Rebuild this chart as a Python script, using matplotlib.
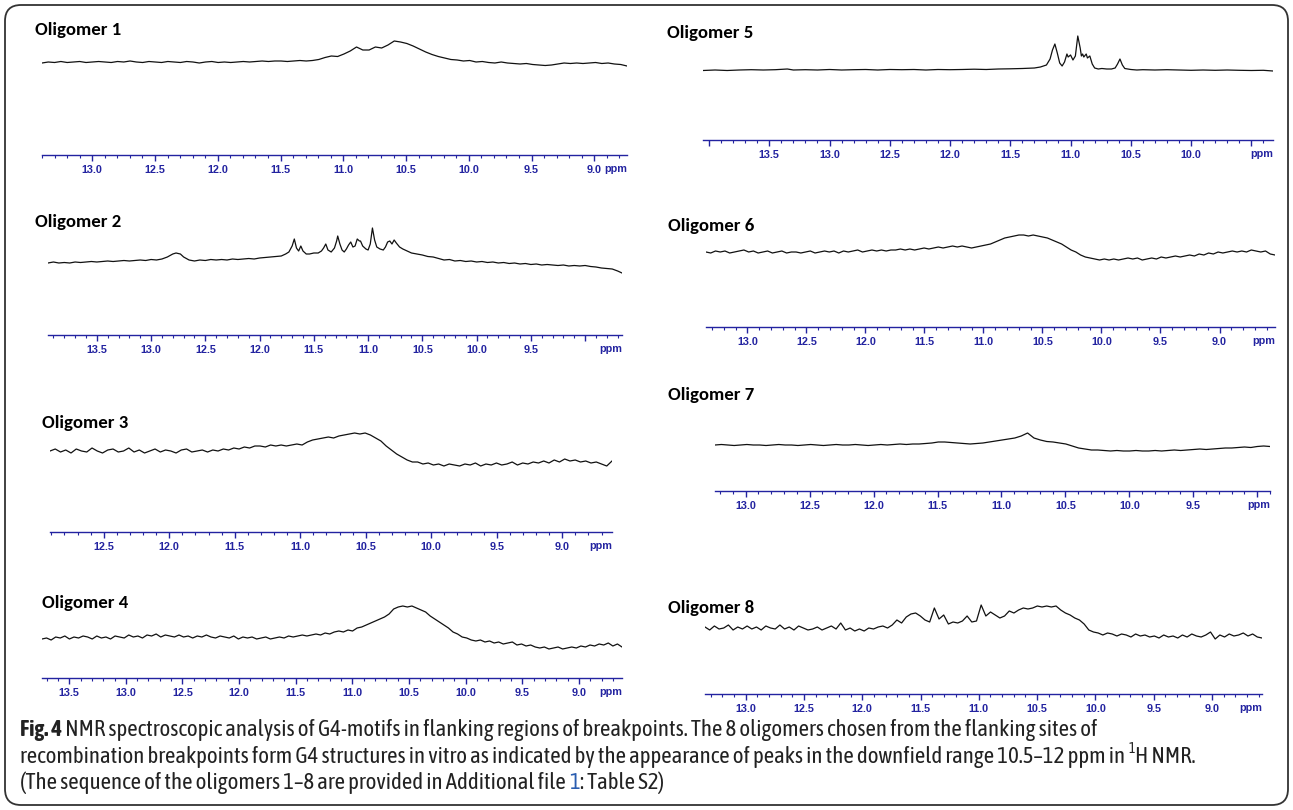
import numpy as np
import matplotlib.pyplot as plt
from matplotlib.patches import FancyBboxPatch

W, H = 1293, 810

# ---- spectra (intensity above baseline) ----
# evenly sampled traces: values run from the left axis end to the right axis end
olig1_int = [-1, 0, -0.5, 0.5, -0.5, 0, 0.5, -0.5, 0, 0.5,
             0, -0.5, 0.5, 0, 1, 0, -0.5, 0.5, 0, -0.5,
             0.5, 0, -0.5, 0.5, 0, -1, 0, 0.5, -0.5, 0,
             -0.5, 0, 0.5, 0, 0.5, 1, 0.5, 1, 1, 0.5,
             1, 1.5, 1, 1.5, 2.5, 4.5, 6, 5.5, 8, 11,
             15, 12, 12, 15, 14, 17, 21, 20, 18.5, 16,
             13, 10, 7.5, 5.5, 4, 2.5, 2, 1, 1.5, 0,
             0.5, -0.5, -1, 0, -1, -1.5, -2, -1.5, -2.5, -3,
             -3.5, -3, -2, -1, -1.5, -1, -1.5, -1, -0.5, -1.5,
             -1, -2, -2.5, -4]

olig3_int = [0, 2, -1, 1, -2, 2, 0, -1, 3, 0,
             -2, 1, 2, -1, 0, 3, -1, 1, -2, 0,
             2, -1, 1, 0, -2, 1, 2, -1, 0, 1,
             -1, 1, 0, 2, 1, 3, 2, 4, 3, 5,
             5, 4, 6, 5, 6, 5, 6, 7, 6, 9,
             11, 12, 13, 14, 13, 15, 16, 17, 18, 17,
             18, 16, 13, 10, 5, 1, -3, -6, -9, -11,
             -11, -13, -12, -14, -13, -15, -13, -14, -15, -13,
             -14, -12, -15, -13, -14, -12, -14, -13, -11, -14,
             -12, -13, -11, -12, -10, -12, -9, -11, -8, -10,
             -9, -11, -10, -12, -11, -13, -15, -10]

olig4_int = [-1, 0, -2, 1, 0, 2, -1, 1, 0, 2,
             1, -1, 2, 0, 1, -1, 2, 1, 0, 3,
             1, 2, 0, 3, 2, 4, 1, 3, 2, 1,
             3, 1, 2, 0, 2, 1, 3, 1, 0, 2,
             1, 0, 2, -1, 1, 0, 1, -1, 0, 1,
             -1, 0, 1, 0, 2, 1, 2, 3, 2, 3,
             4, 3, 5, 4, 6, 7, 6, 8, 7, 10,
             11, 13, 15, 17, 19, 21, 24, 29, 31, 32,
             31, 32, 30, 28, 26, 22, 19, 16, 13, 10,
             6, 4, 1, 0, -2, -3, -2, -4, -3, -5,
             -4, -6, -5, -4, -7, -6, -8, -7, -9, -10,
             -9, -11, -10, -9, -11, -10, -9, -10, -8, -9,
             -7, -8, -6, -7, -5, -8, -6, -9]

olig6_int = [0, -1, 1, 0, 1, -1, 0, 1, 2, 0,
             1, -1, 0, 1, -1, 0, 1, -1, 0, 0,
             -1, 0, 1, -1, 0, 1, 0, 1, -1, 1,
             0, 1, 2, 0, 1, 2, 1, 2, 1, 2,
             2, 3, 2, 3, 2, 3, 4, 3, 4, 5,
             4, 5, 6, 5, 6, 5, 4, 5, 6, 7,
             8, 10, 12, 14, 15, 16, 17, 17, 16, 17,
             16, 15, 14, 12, 10, 8, 5, 2, 0, -3,
             -5, -6, -7, -8, -7, -8, -7, -8, -7, -6,
             -7, -6, -8, -7, -6, -7, -5, -6, -5, -4,
             -5, -4, -3, -4, -2, -3, -1, -2, 0, -1,
             0, 1, 0, 1, 0, 2, 1, 0, 1, -2,
             -3]

olig7_int = [0, 0.5, 0, -0.5, 0, 0.5, 0, 0, -0.5, 0,
             0.5, 0, 0, -0.5, 0, 0.5, 0, -0.5, 0, 0.5,
             0, 0, 0.5, 0, -0.5, 0, 0.5, 0, 0.5, 1,
             0.5, 1, 1, 1.5, 2, 3, 3, 2.5, 2, 1.5,
             1, 1.5, 2, 3, 4, 5, 6, 7, 9, 12,
             7, 5, 3.5, 3, 2, 1, -1, -3, -4, -5,
             -5, -5.5, -6, -5.5, -6, -6, -5.5, -6, -6, -5.5,
             -6, -5.5, -5, -5.5, -5, -4.5, -4, -4.5, -4, -3.5,
             -3, -3, -2.5, -2, -2.5, -1.5, -1, -1.5]

olig8_int = [1, -2, 2, -1, 0, 3, -2, 1, -1, 2,
             -1, 1, -2, 2, 0, -1, 3, -1, 1, -2,
             2, 0, -2, -1, 1, -2, 0, 2, -1, 5,
             -2, 0, -3, -1, -3, 0, -1, 1, 2, 0,
             3, 8, 5, 11, 14, 15, 12, 8, 6, 20,
             9, 13, 4, 6, 5, 7, 12, 6, 7, 23,
             12, 16, 13, 10, 12, 17, 15, 18, 20, 19,
             20, 22, 21, 22, 21, 22, 18, 15, 13, 10,
             8, 4, -2, -4, -5, -7, -5, -6, -8, -6,
             -7, -9, -6, -8, -7, -9, -8, -10, -7, -9,
             -8, -10, -7, -9, -6, -8, -9, -7, -4, -11,
             -7, -9, -6, -8, -7, -5, -8, -6, -9, -10]

# traces with sharp lines: explicit ppm positions
olig2_ppm = [13.95, 13.90, 13.85, 13.80, 13.75, 13.70, 13.65, 13.60, 13.55, 13.50,
             13.45, 13.40, 13.35, 13.30, 13.25, 13.20, 13.15, 13.10, 13.05, 13.00,
             12.95, 12.90, 12.85, 12.80, 12.77, 12.73, 12.70, 12.65, 12.60, 12.55,
             12.50, 12.45, 12.40, 12.35, 12.30, 12.25, 12.20, 12.15, 12.10, 12.05,
             12.00, 11.95, 11.90, 11.85, 11.80, 11.76, 11.73, 11.70, 11.68, 11.66,
             11.64, 11.62, 11.60, 11.57, 11.54, 11.50, 11.46, 11.43, 11.41, 11.39,
             11.37, 11.34, 11.31, 11.29, 11.28, 11.26, 11.24, 11.22, 11.20, 11.18,
             11.16, 11.14, 11.12, 11.10, 11.08, 11.07, 11.05, 11.02, 11.00, 10.98,
             10.96, 10.94, 10.92, 10.89, 10.86, 10.84, 10.82, 10.80, 10.78, 10.76,
             10.74, 10.71, 10.68, 10.64, 10.60, 10.55, 10.50, 10.45, 10.40, 10.35,
             10.30, 10.25, 10.20, 10.15, 10.10, 10.05, 10.00, 9.95, 9.90, 9.85,
             9.80, 9.75, 9.70, 9.65, 9.60, 9.55, 9.50, 9.45, 9.40, 9.35,
             9.30, 9.25, 9.20, 9.15, 9.10, 9.05, 9.00, 8.95, 8.90, 8.85,
             8.80, 8.75, 8.70, 8.66]
olig2_int = [-3, -2, -3, -2.5, -3, -2, -2.5, -2, -1.5, -2,
             -1.5, -1, -1.5, -1, -0.5, -1, -0.5, 0, -0.5, 0.5,
             0, 1, 3, 6, 7, 6, 3, 0, -1, 0,
             -0.5, 0.5, 0, 0.5, 0, 1, 0.5, 1, 1.5, 1,
             2, 2.5, 3, 3.5, 4, 6, 8, 14, 21, 12,
             9, 14, 9, 6, 6, 7, 7, 9, 12, 16,
             10, 8, 12, 19, 24, 16, 10, 8, 11, 15,
             18, 13, 14, 21, 19, 19, 14, 11, 10, 16,
             32, 20, 13, 11, 10, 13, 18, 19, 16, 20,
             17, 13, 11, 9, 7, 6, 5, 3.5, 3, 1.5,
             0, 0.5, -1, -0.5, -1.5, -1, -2, -1.5, -2.5, -2,
             -3, -2.5, -3.5, -3, -4, -3.5, -4.5, -4, -5, -4.5,
             -5, -5.5, -5, -6, -5.5, -6, -5.5, -6.5, -7, -8,
             -8.5, -9, -11, -13]

olig5_ppm = [14.05, 13.95, 13.85, 13.75, 13.65, 13.55, 13.45, 13.35, 13.30, 13.20,
             13.10, 13.00, 12.90, 12.80, 12.70, 12.60, 12.50, 12.40, 12.30, 12.20,
             12.10, 12.00, 11.90, 11.80, 11.70, 11.60, 11.50, 11.40, 11.30, 11.25,
             11.20, 11.17, 11.15, 11.13, 11.11, 11.09, 11.07, 11.05, 11.03, 11.02,
             11.00, 10.98, 10.96, 10.94, 10.92, 10.91, 10.90, 10.89, 10.87, 10.86,
             10.84, 10.82, 10.80, 10.77, 10.74, 10.70, 10.66, 10.63, 10.61, 10.59,
             10.57, 10.55, 10.50, 10.45, 10.40, 10.30, 10.20, 10.10, 10.00, 9.90,
             9.80, 9.70, 9.60, 9.50, 9.40, 9.32]
olig5_int = [-0.5, 0, -0.5, 0, 0.3, 0, 0.3, 1, 0, 0.3,
             0, 0.5, 0, 0.3, 0.5, 0, 0.5, 0.3, 0.5, 0,
             0.5, 0.3, 0.5, 0.8, 0.5, 1, 1.2, 1.5, 2, 3,
             5, 11, 20, 26, 17, 7, 4, 8, 16, 13,
             15, 10, 14, 34, 22, 14, 16, 13, 16, 12,
             14, 6, 2, 1, 1.5, 1, 1, 2, 6, 11,
             5, 1.5, 0.5, 0, 0.3, 0, 0.3, 0, -0.3, 0,
             -0.3, 0, -0.3, -0.5, -0.3, -1]

# axis ranges (left, right) in ppm and labelled ticks
olig_range = {1: (13.40, 8.74), 2: (13.95, 8.66), 3: (12.91, 8.62), 4: (13.74, 8.62),
              5: (14.05, 9.32), 6: (13.35, 8.53), 7: (13.24, 8.90), 8: (13.35, 8.57)}
olig_labels = {1: [13.0, 12.5, 12.0, 11.5, 11.0, 10.5, 10.0, 9.5, 9.0],
               2: [13.5, 13.0, 12.5, 12.0, 11.5, 11.0, 10.5, 10.0, 9.5],
               3: [12.5, 12.0, 11.5, 11.0, 10.5, 10.0, 9.5, 9.0],
               4: [13.5, 13.0, 12.5, 12.0, 11.5, 11.0, 10.5, 10.0, 9.5, 9.0],
               5: [13.5, 13.0, 12.5, 12.0, 11.5, 11.0, 10.5, 10.0],
               6: [13.0, 12.5, 12.0, 11.5, 11.0, 10.5, 10.0, 9.5, 9.0],
               7: [13.0, 12.5, 12.0, 11.5, 11.0, 10.5, 10.0, 9.5],
               8: [13.0, 12.5, 12.0, 11.5, 11.0, 10.5, 10.0, 9.5, 9.0]}

def trace(n):
    if n == 2:
        return olig2_ppm, olig2_int
    if n == 5:
        return olig5_ppm, olig5_int
    vals = {1: olig1_int, 3: olig3_int, 4: olig4_int, 6: olig6_int,
            7: olig7_int, 8: olig8_int}[n]
    a, b = olig_range[n]
    return np.linspace(a, b, len(vals)), vals

# layout in pixels: axis x0, x1, axis line y, baseline height, title x, title y
layout = {1: (42, 627, 155, 93, 35, 30),
          2: (48, 622, 335, 75, 35, 222),
          3: (50, 612, 532, 81, 42, 423),
          4: (42, 622, 678, 40, 42, 603),
          5: (703, 1273, 140, 70, 667, 33),
          6: (706, 1275, 327, 75, 668, 226),
          7: (715, 1270, 491, 46, 668, 395),
          8: (705, 1262, 694, 66, 668, 608)}

BLUE = '#2323a0'
TITLE_FONT = ['Carlito', 'Lato', 'DejaVu Sans']
CAP_FONT = ['Asap Condensed', 'Archivo Narrow', 'Liberation Sans Narrow', 'DejaVu Sans']

fig = plt.figure(figsize=(W / 100, H / 100), dpi=100)
bg = fig.add_axes([0, 0, 1, 1])
bg.set_xlim(0, W)
bg.set_ylim(H, 0)
bg.axis('off')
bg.add_patch(FancyBboxPatch((5, 5), W - 10, H - 10,
                            boxstyle='round,pad=0,rounding_size=16',
                            fc='none', ec='#333333', lw=1.3))

for n in range(1, 9):
    x0, x1, ya, off, tx, ty = layout[n]
    top = off + 45
    ax = fig.add_axes([x0 / W, 1 - ya / H, (x1 - x0) / W, top / H])
    ax.patch.set_alpha(0)
    ppm, vals = trace(n)
    ax.plot(ppm, vals, color='#111111', lw=0.9)
    ax.set_xlim(*olig_range[n])
    ax.set_ylim(-off, top - off)
    for s in ['top', 'left', 'right']:
        ax.spines[s].set_visible(False)
    ax.spines['bottom'].set_color(BLUE)
    ax.spines['bottom'].set_linewidth(1.0)
    lo, hi = sorted(olig_range[n])
    majors = [m / 2 for m in range(int(np.ceil(lo * 2)), int(np.floor(hi * 2)) + 1)]
    minors = [m / 10 for m in range(int(np.ceil(lo * 10)), int(np.floor(hi * 10)) + 1)]
    labs = ['%.1f' % m if m in olig_labels[n] else '' for m in majors]
    ax.set_xticks(majors, labels=labs, fontsize=7.8, fontweight='bold',
                  color=BLUE, family='Liberation Sans')
    ax.set_xticks(minors, minor=True)
    ax.tick_params(axis='x', which='major', direction='out', length=4,
                   width=1, color=BLUE, pad=3)
    ax.tick_params(axis='x', which='minor', direction='out', length=2,
                   width=0.8, color=BLUE)
    ax.set_yticks([])
    ax.annotate('ppm', xy=(1, 0), xycoords='axes fraction', xytext=(0, -14),
                textcoords='offset pixels', ha='right', va='center',
                fontsize=7.8, fontweight='bold', color=BLUE, family='Liberation Sans')
    bg.text(tx, ty, 'Oligomer %d' % n, fontsize=13.5, fontweight='bold',
            family=TITLE_FONT, ha='left', va='center')

# caption
cap = dict(fontsize=16.5, family=CAP_FONT, color='#222222')
t = bg.text(20, 730, 'Fig. 4', fontweight='bold', va='center', ha='left', **cap)
bg.annotate(' NMR spectroscopic analysis of G4-motifs in flanking regions of breakpoints. '
            'The 8 oligomers chosen from the flanking sites of',
            xy=(1, 0), xycoords=t, va='bottom', ha='left', **cap)
t2 = bg.text(20, 757, 'recombination breakpoints form G4 structures in vitro as indicated by '
             'the appearance of peaks in the downfield range 10.5\u201312 ppm in ',
             va='center', ha='left', **cap)
sup = bg.annotate('1', xy=(1, 0.55), xycoords=t2, va='bottom', ha='left',
                  **{**cap, 'fontsize': 10})
bg.annotate('H NMR.', xy=(1, 0), xycoords=(sup, t2), va='bottom', ha='left', **cap)
t3 = bg.text(20, 783, '(The sequence of the oligomers 1\u20138 are provided in Additional file ',
             va='center', ha='left', **cap)
t4 = bg.annotate('1', xy=(1, 0), xycoords=t3, va='bottom', ha='left',
                 **{**cap, 'color': '#2a5db0'})
bg.annotate(': Table S2)', xy=(1, 0), xycoords=(t4, t3), va='bottom', ha='left', **cap)

fig.savefig('out.png', dpi=100)
